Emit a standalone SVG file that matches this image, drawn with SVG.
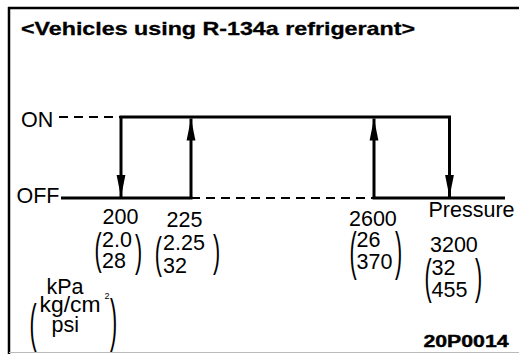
<svg xmlns="http://www.w3.org/2000/svg" width="519" height="354" viewBox="0 0 519 354">
  <style>
    .t { font-family: "Liberation Sans", Arial, sans-serif; font-size: 21.5px; fill: #000; }
    .sup { font-family: "Liberation Sans", Arial, sans-serif; font-size: 9px; fill: #000; }
    .b { font-family: "Liberation Sans", Arial, sans-serif; font-weight: bold; fill: #000; }
    .ln { stroke: #000; stroke-width: 3; fill: none; }
    .dash { stroke: #000; stroke-width: 2; stroke-dasharray: 9 6; fill: none; }
  </style>
  <defs>
    <marker id="ah" markerUnits="userSpaceOnUse" markerWidth="22" markerHeight="10" viewBox="0 0 22 10" refX="22" refY="5" orient="auto">
      <path d="M0,0.6 L22,5 L0,9.4 Z" fill="#000"/>
    </marker>
  </defs>
  <rect width="519" height="354" fill="#fff"/>
  <g id="frame">
    <line x1="9" y1="7" x2="9" y2="354" stroke="#000" stroke-width="2.5"/>
    <line x1="8" y1="8" x2="519" y2="8" stroke="#000" stroke-width="2.5"/>
    <line x1="9" y1="352.5" x2="519" y2="352.5" stroke="#bbb" stroke-width="1"/>
  </g>
  <g id="title">
    <text class="b" x="21" y="34.5" font-size="18.5" stroke="#000" stroke-width="0.3" textLength="394" lengthAdjust="spacingAndGlyphs">&lt;Vehicles using R-134a refrigerant&gt;</text>
  </g>
  <g id="axis-labels">
    <text class="t" x="21" y="126.5">ON</text>
    <text class="t" x="16.5" y="203">OFF</text>
    <text class="t" x="428.5" y="217">Pressure</text>
  </g>
  <g id="connectors">
    <line class="dash" x1="59" y1="117" x2="121" y2="117"/>
    <line class="dash" x1="191" y1="198" x2="374" y2="198"/>
    <line class="ln" x1="61" y1="198" x2="192.5" y2="198"/>
    <line class="ln" x1="119.5" y1="117" x2="451" y2="117"/>
    <line class="ln" x1="372.5" y1="198" x2="505" y2="198"/>
    <line class="ln" x1="121" y1="117" x2="121" y2="197" marker-end="url(#ah)"/>
    <line class="ln" x1="191" y1="198" x2="191" y2="118.5" marker-end="url(#ah)"/>
    <line class="ln" x1="374" y1="198" x2="374" y2="118.5" marker-end="url(#ah)"/>
    <line class="ln" x1="449.5" y1="117" x2="449.5" y2="197" marker-end="url(#ah)"/>
  </g>
  <g id="label-200">
    <text class="t" x="102.5" y="224">200</text>
    <text class="t" transform="translate(94.5,264.1) scale(1,2.08)">(</text>
    <text class="t" x="102" y="246.5">2.0</text>
    <text class="t" x="102" y="268">28</text>
    <text class="t" transform="translate(135,265.6) scale(1,2.08)">)</text>
  </g>
  <g id="label-225">
    <text class="t" x="166.5" y="227">225</text>
    <text class="t" transform="translate(154.8,267.8) scale(1,2.03)">(</text>
    <text class="t" x="163" y="250">2.25</text>
    <text class="t" x="163" y="273">32</text>
    <text class="t" transform="translate(213,265.6) scale(1,2.08)">)</text>
  </g>
  <g id="label-2600">
    <text class="t" x="349" y="226">2600</text>
    <text class="t" transform="translate(349.5,269.1) scale(1,2.4)">(</text>
    <text class="t" x="356.5" y="246.5">26</text>
    <text class="t" x="356.5" y="269">370</text>
    <text class="t" transform="translate(395,269.2) scale(1,2.38)">)</text>
  </g>
  <g id="label-3200">
    <text class="t" x="430" y="251.5">3200</text>
    <text class="t" transform="translate(424.5,292.9) scale(1,2.23)">(</text>
    <text class="t" x="431.5" y="275">32</text>
    <text class="t" x="431.5" y="296.5">455</text>
    <text class="t" transform="translate(475,292.9) scale(1,2.23)">)</text>
  </g>
  <g id="units">
    <text class="t" x="46.5" y="294">kPa</text>
    <text class="t" transform="translate(29.5,341.2) scale(1,2.38)">(</text>
    <text class="t" x="39.5" y="311.5" textLength="61" lengthAdjust="spacingAndGlyphs">kg/cm</text>
    <text class="sup" x="104.5" y="299">2</text>
    <text class="t" x="51.5" y="331.5">psi</text>
    <text class="t" transform="translate(110,340.2) scale(1,2.63)">)</text>
  </g>
  <g id="code">
    <text class="b" x="423.5" y="346.5" font-size="16" stroke="#000" stroke-width="0.4" textLength="85" lengthAdjust="spacingAndGlyphs">20P0014</text>
  </g>
</svg>
